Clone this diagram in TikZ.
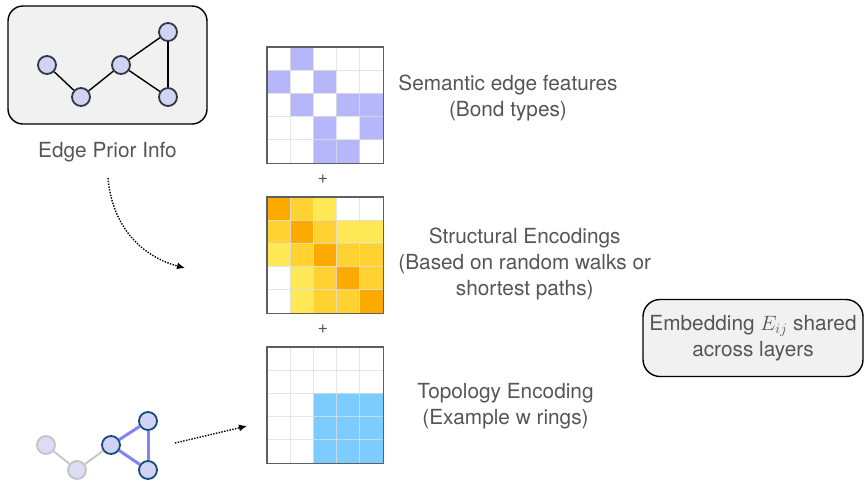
\documentclass[tikz,border=0pt]{standalone}
\usepackage{fontspec}
\setmainfont{TeX Gyre Heros}
\usetikzlibrary{positioning,arrows.meta}

\definecolor{txtgray}{RGB}{85,85,85}
\definecolor{boxfill}{RGB}{240,241,240}
\definecolor{nodefill}{RGB}{210,210,245}
\definecolor{nodeline}{RGB}{45,58,68}
\definecolor{semblue}{RGB}{182,182,250}
\definecolor{orng}{RGB}{253,170,0}
\definecolor{gld}{RGB}{255,210,50}
\definecolor{yel}{RGB}{255,232,85}
\definecolor{topblue}{RGB}{125,204,255}
\definecolor{gridc}{RGB}{222,222,222}
\definecolor{matline}{RGB}{95,95,95}
\definecolor{fadeline}{RGB}{195,195,200}
\definecolor{fadefill}{RGB}{220,220,245}
\definecolor{ringblue}{RGB}{130,130,250}
\definecolor{ringline}{RGB}{20,75,120}

\begin{document}
\begin{tikzpicture}[x=1pt,y=-1pt,
	lbl/.style={text=txtgray,font=\fontsize{20.8}{26}\selectfont,align=center,inner sep=0pt},
	plus/.style={text=txtgray,font=\fontsize{18}{18}\selectfont,inner sep=0pt},
	roundbox/.style={draw=black,line width=1.4pt,fill=boxfill,rounded corners=15pt},
	gnode/.style={circle,draw=nodeline,fill=nodefill,line width=1.8pt,inner sep=0pt,minimum size=18pt},
	fnode/.style={circle,draw=fadeline,fill=fadefill,line width=1.8pt,inner sep=0pt,minimum size=18pt},
	rnode/.style={circle,draw=ringline,fill=nodefill,line width=1.8pt,inner sep=0pt,minimum size=18pt},
	mat/.style={minimum size=116pt,inner sep=0pt},
	dotarrow/.style={line width=1.4pt,dash pattern=on 1.4pt off 1.4pt,-{Latex[length=8pt,width=7pt]}}]
	\useasboundingbox (0,0) rectangle (866,480);

	% edge prior info
	\node[roundbox,minimum width=199pt,minimum height=118pt]	(box)	at (107.5,65)	{};
	\node[lbl,below=17pt of box]							(prior)	{Edge Prior Info};
	\node[gnode]	(g1)	at (47,65)	{};
	\node[gnode]	(g2)	at (81,97)	{};
	\node[gnode]	(g3)	at (121,65)	{};
	\node[gnode]	(g4)	at (168,32)	{};
	\node[gnode]	(g5)	at (168,97)	{};
	\draw[line width=1.4pt] (g1) -- (g2);
	\draw[line width=1.4pt] (g2) -- (g3);
	\draw[line width=1.4pt] (g3) -- (g4);
	\draw[line width=1.4pt] (g3) -- (g5);
	\draw[line width=1.4pt] (g4) -- (g5);

	% matrices
	\node[mat]	(sem)	at (325,105)	{};
	\node[mat]	(str)	at (325,255)	{};
	\node[mat]	(top)	at (325,405)	{};
	\node[plus]	(p1)	at (323,179)	{+};
	\node[plus]	(p2)	at (323,329)	{+};

	\begin{scope}[shift={(sem.north west)}]
		\foreach \r/\c in {0/1,1/0,1/2,2/1,2/3,2/4,3/2,3/4,4/2,4/3}
			\fill[semblue] (\c*23.2,\r*23.2) rectangle ++(23.2,23.2);
	\end{scope}
	\begin{scope}[shift={(str.north west)}]
		\foreach \r/\c/\col in {0/0/orng,0/1/gld,0/2/yel,
				1/0/gld,1/1/orng,1/2/gld,1/3/yel,1/4/yel,
				2/0/yel,2/1/gld,2/2/orng,2/3/gld,2/4/gld,
				3/1/yel,3/2/gld,3/3/orng,3/4/gld,
				4/1/yel,4/2/gld,4/3/gld,4/4/orng}
			\fill[\col] (\c*23.2,\r*23.2) rectangle ++(23.2,23.2);
	\end{scope}
	\begin{scope}[shift={(top.north west)}]
		\fill[topblue] (2*23.2,2*23.2) rectangle (116,116);
	\end{scope}
	\foreach \m in {sem,str,top} {
		\begin{scope}[shift={(\m.north west)}]
			\foreach \i in {1,...,4} {
				\draw[gridc,opacity=0.8,line width=0.9pt] (\i*23.2,0) -- (\i*23.2,116);
				\draw[gridc,opacity=0.8,line width=0.9pt] (0,\i*23.2) -- (116,\i*23.2);
			}
		\end{scope}
		\draw[matline,line width=1.4pt] (\m.north west) rectangle (\m.south east);
	}

	\node[lbl,right=15pt of sem,yshift=7pt]		(semlbl)	{Semantic edge features\\(Bond types)};
	\node[lbl,right=15pt of str,yshift=-9pt]	(strlbl)	{Structural Encodings\\(Based on random walks or\\shortest paths)};
	\node[lbl,right=34pt of top,yshift=-1pt]	(toplbl)	{Topology Encoding\\(Example w rings)};

	% shared embedding
	\node[roundbox,lbl,draw=black,minimum width=220pt,minimum height=77pt,rounded corners=17pt]
		(emb) at (753,338) {Embedding $E_{ij}$ shared\\across layers};

	% ring example
	\node[fnode]	(f1)	at (46,445)	{};
	\node[fnode]	(f2)	at (77,470)	{};
	\node[rnode]	(r1)	at (111,445)	{};
	\node[rnode]	(r2)	at (148,421)	{};
	\node[rnode]	(r3)	at (148,470)	{};
	\draw[fadeline,line width=1.8pt] (f1) -- (f2);
	\draw[fadeline,line width=1.8pt] (f2) -- (r1);
	\draw[ringblue,line width=3pt] (r1) -- (r2);
	\draw[ringblue,line width=3pt] (r1) -- (r3);
	\draw[ringblue,line width=3pt] (r2) -- (r3);

	% arrows
	\coordinate (a1s) at (108,178);
	\coordinate (a1e) at (185,268);
	\coordinate (a2s) at (175,443);
	\coordinate (a2e) at (247,426);
	\draw[dotarrow] (a1s) .. controls (112,225) and (140,256) .. (a1e);
	\draw[dotarrow] (a2s) -- (a2e);
\end{tikzpicture}
\end{document}
